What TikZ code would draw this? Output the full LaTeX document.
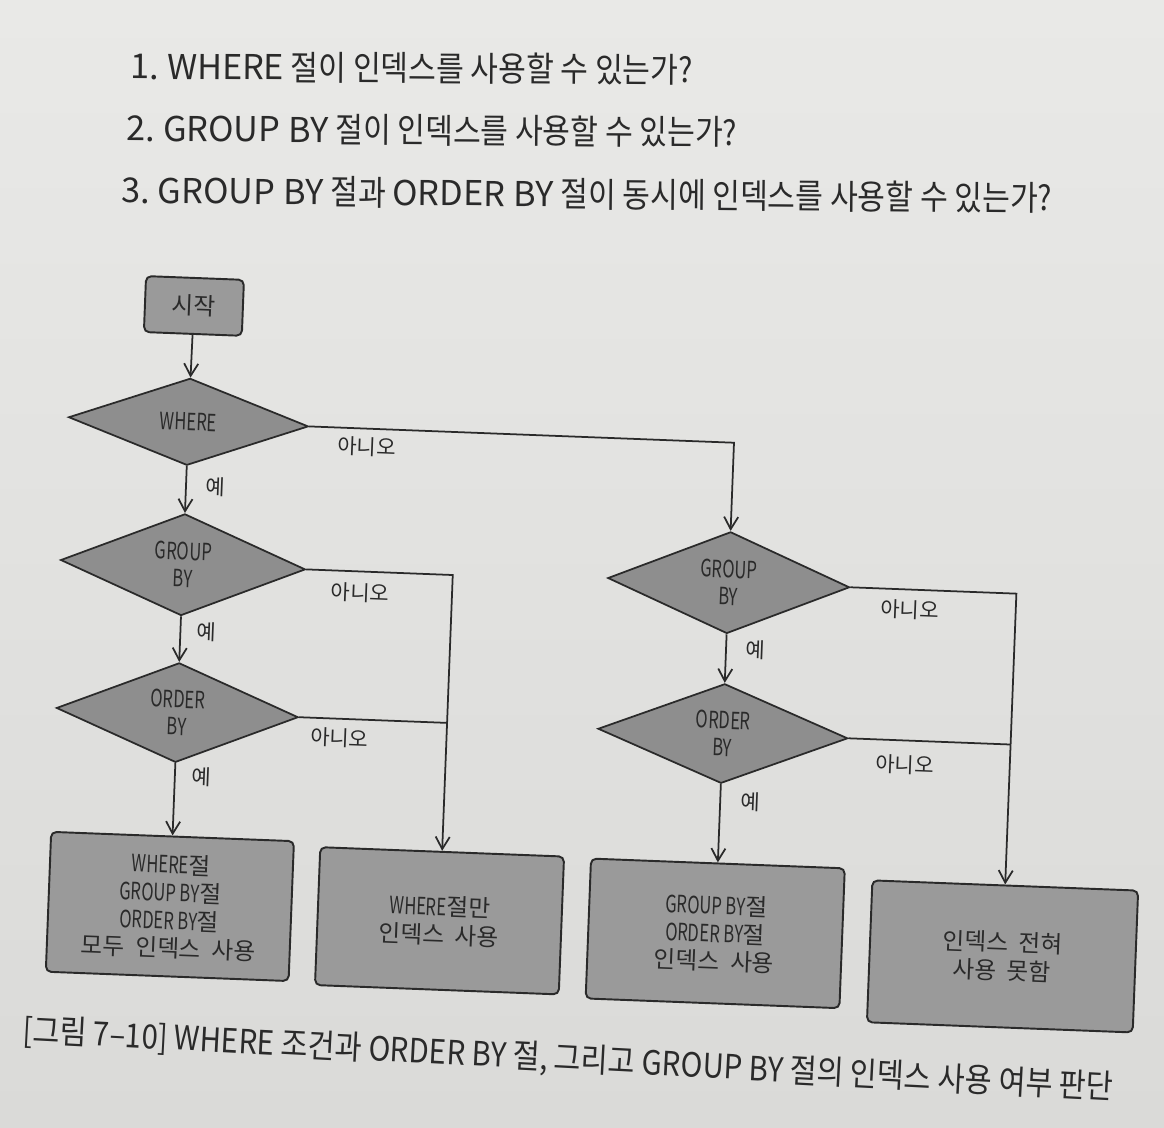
\documentclass[tikz,border=0pt]{standalone}
\usepackage{fontspec}
\setmainfont{Noto Sans CJK KR}
\newfontfamily\hfont{Noto Sans CJK KR}[FakeStretch=0.88]
\newfontfamily\latfont{Noto Sans CJK KR}
\newfontfamily\bfont{Noto Sans CJK KR}[WordSpace=2]
\newfontfamily\cfont{Noto Sans CJK KR}[FakeStretch=0.7]
\newcommand{\lat}[1]{{\latfont #1}}
\newcommand{\latsp}{\hspace{0.24em}}
\usetikzlibrary{shapes.geometric,arrows.meta}
\definecolor{bgtop}{HTML}{E9E9E7}
\definecolor{bgbot}{HTML}{DADAD8}
\definecolor{dia}{HTML}{8E8E8E}
\definecolor{boxc}{HTML}{9A9A9A}
\definecolor{ink}{HTML}{2A2A2A}
\begin{document}
\begin{tikzpicture}[x=0.02cm,y=-0.02cm,
  ln/.style={draw=ink, line width=1pt},
  arr/.style={ln, -{Straight Barb[length=7pt,width=8pt]}},
  dec/.style={diamond, draw=ink, line width=1pt, fill=dia, inner sep=0pt, align=center,
    font=\cfont\fontsize{13.5}{15.5}\selectfont, text=ink},
  res/.style={rectangle, rounded corners=3pt, draw=ink, line width=1.1pt, fill=boxc,
    align=center, font=\bfont\fontsize{13.5}{15.9}\selectfont, text=ink, inner sep=0pt},
  lab/.style={font=\fontsize{12}{14}\selectfont, text=ink},
  head/.style={font=\hfont\fontsize{19.5}{22}\selectfont, text=ink, anchor=west, inner sep=0pt}
]
\fill[top color=bgtop, bottom color=bgbot] (0,0) rectangle (1164,1128);
\useasboundingbox (0,0) rectangle (1164,1128);

\node[head, rotate=-0.4] (h1) at (130,66) {\lat{1.\latsp WHERE} 절이 인덱스를 사용할 수 있는가?};
\node[head, rotate=-0.4] (h2) at (126,128) {\lat{2.\latsp GROUP\latsp BY} 절이 인덱스를 사용할 수 있는가?};
\node[head, rotate=-0.5] (h3) at (121,190) {\lat{3.\latsp GROUP\latsp BY} 절과 \lat{ORDER\latsp BY} 절이 동시에 인덱스를 사용할 수 있는가?};

\begin{scope}[rotate around={-2.2:(580,650)}, transform shape]
  \node[res, minimum width=1.96cm, minimum height=1.12cm] (start) at (181,321) {시작};
  \node[dec, minimum width=4.8cm, minimum height=1.74cm] (where) at (180,437) {WHERE};
  \node[dec, minimum width=4.9cm, minimum height=1.76cm] (gbl) at (180,580) {GROUP\\BY};
  \node[dec, minimum width=4.84cm, minimum height=1.76cm] (obl) at (180,728) {ORDER\\BY};
  \node[dec, minimum width=4.84cm, minimum height=1.8cm] (gbr) at (726,577) {GROUP\\BY};
  \node[dec, minimum width=5.0cm, minimum height=1.84cm] (obr) at (726,728) {ORDER\\BY};

  \node[res, minimum width=4.86cm, minimum height=2.8cm] (box1) at (180,922)
    {{\cfont WHERE}절\\{\cfont GROUP BY}절\\{\cfont ORDER BY}절\\모두 인덱스 사용};
  \node[res, minimum width=4.88cm, minimum height=2.76cm] (box2) at (450,926)
    {{\cfont WHERE}절만\\인덱스 사용};
  \node[res, minimum width=5.08cm, minimum height=2.8cm] (box3) at (726,928)
    {{\cfont GROUP BY}절\\{\cfont ORDER BY}절\\인덱스 사용};
  \node[res, minimum width=5.32cm, minimum height=2.84cm] (box4) at (1014,940)
    {인덱스 전혀\\사용 못함};

  \draw[arr] (start) -- (where);
  \draw[arr] (where) -- (gbl);
  \draw[arr] (gbl) -- (obl);
  \draw[arr] (obl) -- (box1);
  \draw[arr] (gbr) -- (obr);
  \draw[arr] (obr) -- (box3);
  \draw[arr] (where.east) -| (gbr.north);
  \draw[arr] (gbl.east) -| (box2.north);
  \draw[ln] (obl.east) -- (obl.east -| box2.north);
  \draw[arr] (gbr.east) -| (box4.north);
  \draw[ln] (obr.east) -- (obr.east -| box4.north);

  \node[lab] (y1) at (209,501) {예};
  \node[lab] (y2) at (206,646) {예};
  \node[lab] (y3) at (207,791) {예};
  \node[lab] (y4) at (755,643) {예};
  \node[lab] (y5) at (756,795) {예};
  \node[lab] (n1) at (359,455) {아니오};
  \node[lab] (n2) at (358,601) {아니오};
  \node[lab] (n3) at (343,747) {아니오};
  \node[lab] (n4) at (908,597) {아니오};
  \node[lab] (n5) at (909,752) {아니오};
\end{scope}

\node[font=\hfont\fontsize{19}{22}\selectfont, text=ink, rotate=-3] (cap) at (568,1060)
  {[그림 7–10] WHERE 조건과 ORDER BY 절, 그리고 GROUP BY 절의 인덱스 사용 여부 판단};
\end{tikzpicture}
\end{document}
